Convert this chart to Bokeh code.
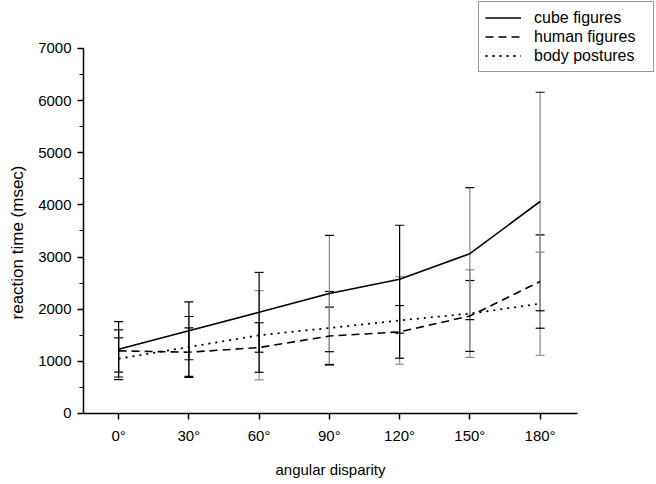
from bokeh.plotting import figure
from bokeh.models import (ColumnDataSource, Range1d, FixedTicker, SingleIntervalTicker,
                          Legend, LegendItem)
from bokeh.embed import file_html
from bokeh.resources import INLINE

# ---- data ----
angles = [0, 30, 60, 90, 120, 150, 180]
angle_labels = ["0°", "30°", "60°", "90°", "120°", "150°", "180°"]

cube = [1230, 1585, 1940, 2300, 2575, 3065, 4065]
cube_err = [530, 555, 765, 1115, 1035, 1265, 2095]

human = [1200, 1175, 1265, 1485, 1565, 1870, 2530]
human_err = [405, 465, 475, 555, 505, 680, 895]

body = [1050, 1275, 1500, 1640, 1785, 1915, 2105]
body_err = [400, 585, 855, 700, 840, 840, 990]

series_names = ["cube figures", "human figures", "body postures"]

# ---- styles ----
BLACK = "#000000"
GRAY = "#8a8a8a"
stem_dark = [BLACK, BLACK, BLACK, GRAY, BLACK, GRAY, GRAY]
body_caps = [BLACK, BLACK, GRAY, BLACK, GRAY, GRAY, GRAY]
FONT = "Liberation Sans"

# frame covers px x 83..656, y 0..484; x axis drawn at y=0, axes bounded to data area
p = figure(width=656, height=484, output_backend="svg", toolbar_location=None,
           x_range=Range1d(-15, 229.7), y_range=Range1d(-1362, 7920),
           min_border_left=83, min_border_right=0, min_border_top=0, min_border_bottom=0)
p.outline_line_color = None
p.xgrid.visible = False
p.ygrid.visible = False
p.background_fill_color = "white"
p.border_fill_color = "white"


def errbars(mean, err, stem_colors, cap_colors):
    lo = [m - e for m, e in zip(mean, err)]
    hi = [m + e for m, e in zip(mean, err)]
    src = ColumnDataSource(dict(x=angles, lo=lo, hi=hi, sc=stem_colors, cc=cap_colors))
    p.segment(x0="x", y0="lo", x1="x", y1="hi", source=src, line_color="sc", line_width=1.2)
    p.scatter(x="x", y="lo", source=src, marker="dash", size=9, line_color="cc", line_width=1.2)
    p.scatter(x="x", y="hi", source=src, marker="dash", size=9, line_color="cc", line_width=1.2)


errbars(body, body_err, [GRAY] * 7, body_caps)
errbars(human, human_err, stem_dark, [BLACK] * 7)
errbars(cube, cube_err, stem_dark, [BLACK] * 7)

r_cube = p.line(angles, cube, line_color=BLACK, line_width=1.6)
r_human = p.line(angles, human, line_color=BLACK, line_width=1.6, line_dash="8 5")
r_body = p.line(angles, body, line_color=BLACK, line_width=1.8, line_dash="2 5")

# axes
p.xaxis.ticker = FixedTicker(ticks=angles)
p.xaxis.major_label_overrides = {a: l for a, l in zip(angles, angle_labels)}
p.yaxis.ticker = SingleIntervalTicker(interval=1000, num_minor_ticks=2)
p.xaxis.bounds = (-15, 196)
p.yaxis.bounds = (0, 7000)
p.xaxis.fixed_location = 0
for ax in (p.xaxis[0], p.yaxis[0]):
    ax.axis_line_width = 1.5
    ax.axis_line_color = BLACK
    ax.major_tick_line_color = BLACK
    ax.major_tick_line_width = 1.5
    ax.major_tick_in = 0
    ax.major_tick_out = 6
    ax.minor_tick_in = 0
    ax.minor_tick_out = 4
    ax.minor_tick_line_color = BLACK
    ax.major_label_text_font = FONT
    ax.major_label_text_font_size = "15px"
    ax.major_label_text_color = BLACK
    ax.axis_label_text_font = FONT
    ax.axis_label_text_font_style = "normal"
    ax.axis_label_text_color = BLACK
p.xaxis.axis_label_text_font_size = "15px"
p.yaxis.axis_label_text_font_size = "17px"
p.xaxis.minor_tick_line_color = None
p.xaxis.minor_tick_out = 0
p.xaxis.axis_label = "angular disparity"
p.yaxis.axis_label = "reaction time (msec)"
p.xaxis.major_label_standoff = 8
p.xaxis.axis_label_standoff = 13
p.yaxis.major_label_standoff = 6
p.yaxis.axis_label_standoff = 8

legend = Legend(items=[LegendItem(label=series_names[0], renderers=[r_cube]),
                       LegendItem(label=series_names[1], renderers=[r_human]),
                       LegendItem(label=series_names[2], renderers=[r_body])],
                location=(395, 412), orientation="vertical",
                glyph_width=36, glyph_height=19, label_height=19, spacing=0,
                padding=6, margin=0, label_width=113,
                label_standoff=13, label_text_font=FONT, label_text_font_size="16px",
                label_text_color=BLACK, border_line_color="#333333", border_line_width=1,
                background_fill_color="white", background_fill_alpha=1.0)
p.add_layout(legend, "center")

open("out.html", "w").write(file_html(p, INLINE))
